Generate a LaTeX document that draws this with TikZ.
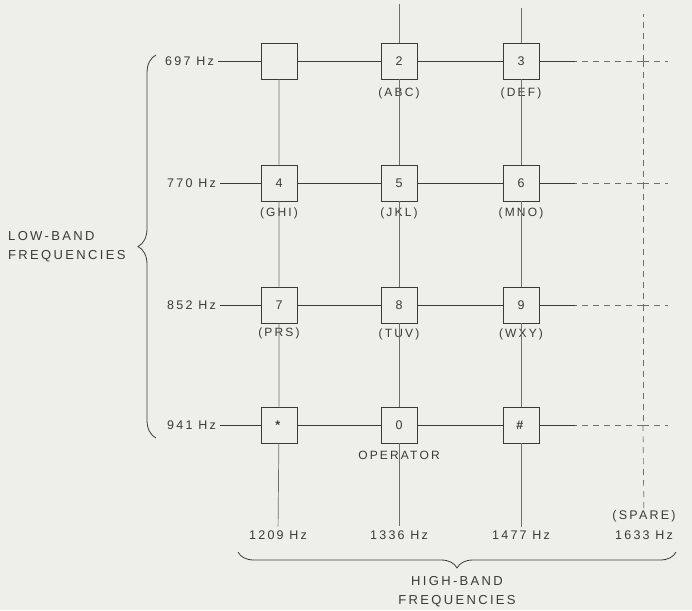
\documentclass[tikz,border=0pt]{standalone}
\usepackage{fontspec}
\usepackage{tikz}
\usetikzlibrary{decorations.pathreplacing}
\usepackage{xcolor}
\newfontfamily\dtmf[LetterSpace=18]{Liberation Sans}
\definecolor{paper}{HTML}{EFEFE9}
\definecolor{ink}{HTML}{3A3A3A}
\definecolor{faint}{HTML}{6E6E6E}
\tikzset{
  keybox/.style={draw=ink, line width=0.8pt, minimum size=36pt, inner sep=0pt, font=\dtmf\fontsize{12.5}{14}\selectfont, text=ink},
  keylabel/.style={font=\dtmf\fontsize{12}{14}\selectfont, text=ink, inner sep=1pt},
  hzlabel/.style={font=\dtmf\fontsize{12.5}{14}\selectfont, text=ink, inner sep=4pt},
  bandlabel/.style={font=\dtmf\fontsize{13}{19}\selectfont, text=ink, inner sep=0pt},
  wire/.style={draw=ink, line width=0.8pt},
  colwire/.style={draw=faint, line width=0.7pt},
  spare/.style={draw=faint, line width=0.7pt, dash pattern=on 6pt off 5pt},
  bandbrace/.style={draw=ink, line width=0.8pt, decorate, decoration={brace, amplitude=#1}}
}

\begin{document}
\begin{tikzpicture}[x=1pt, y=-1pt]
  \fill[paper] (0,0) rectangle (692,610);
  \useasboundingbox (0,0) rectangle (692,610);

  % keys
  \node[keybox] (k1) at (279,61) {};
  \node[keybox] (k2) at (399,61) {2};
  \node[keybox] (k3) at (521,61) {3};
  \node[keybox] (k4) at (279,183) {4};
  \node[keybox] (k5) at (399,183) {5};
  \node[keybox] (k6) at (521,183) {6};
  \node[keybox] (k7) at (279,305) {7};
  \node[keybox] (k8) at (399,305) {8};
  \node[keybox] (k9) at (521,305) {9};
  \node[keybox] (kstar) at (279,425) {\raisebox{-0.35ex}{\textbf{*}}};
  \node[keybox] (k0) at (399,425) {0};
  \node[keybox] (khash) at (521,425) {\textbf{\#}};

  % letters under the keys
  \node[keylabel] (l2) at (399,93) {(ABC)};
  \node[keylabel] (l3) at (521,93) {(DEF)};
  \node[keylabel] (l4) at (279,213) {(GHI)};
  \node[keylabel] (l5) at (399,213) {(JKL)};
  \node[keylabel] (l6) at (521,213) {(MNO)};
  \node[keylabel] (l7) at (279,333) {(PRS)};
  \node[keylabel] (l8) at (399,334) {(TUV)};
  \node[keylabel] (l9) at (521,334) {(WXY)};
  \node[keylabel] (l0) at (399,455) {OPERATOR};

  % row frequencies
  \node[hzlabel, anchor=east] (r697) at (218,61) {697 Hz};
  \node[hzlabel, anchor=east] (r770) at (220,183) {770 Hz};
  \node[hzlabel, anchor=east] (r852) at (220,305) {852 Hz};
  \node[hzlabel, anchor=east] (r941) at (220,425) {941 Hz};

  % column frequencies
  \node[hzlabel] (h1209) at (278,535) {1209 Hz};
  \node[hzlabel] (h1336) at (399,535) {1336 Hz};
  \node[hzlabel] (h1477) at (521,535) {1477 Hz};
  \node[hzlabel, align=center, inner sep=2pt, font=\dtmf\fontsize{12.5}{20}\selectfont] (h1633) at (644,525) {(SPARE)\\1633 Hz};

  % free ends
  \coordinate (t1336) at (399,4);
  \coordinate (t1477) at (521,8);
  \coordinate (t1633) at (643,14);
  \foreach \r/\y in {697/61, 770/183, 852/305, 941/425} {
    \coordinate (s\r) at (575,\y);
    \coordinate (c\r) at (643,\y);
    \coordinate (e\r) at (668,\y);
  }

  % rows
  \draw[wire] (r697) -- (k1) -- (k2) -- (k3) -- (s697);
  \draw[wire] (r770) -- (k4) -- (k5) -- (k6) -- (s770);
  \draw[wire] (r852) -- (k7) -- (k8) -- (k9) -- (s852);
  \draw[wire] (r941) -- (kstar) -- (k0) -- (khash) -- (s941);
  \foreach \r in {697,770,852,941} {
    \draw[spare] (c\r) -- (s\r);
    \draw[spare] (c\r) -- (e\r);
  }

  % columns
  \draw[colwire] (k1) -- (k4) -- (k7) -- (kstar) -- (h1209);
  \draw[colwire] (t1336) -- (k2) -- (k5) -- (k8) -- (k0) -- (h1336);
  \draw[colwire] (t1477) -- (k3) -- (k6) -- (k9) -- (khash) -- (h1477);
  \draw[spare] (c697) -- (t1633);
  \draw[spare] (c697) -- (c770);
  \draw[spare] (c770) -- (c852);
  \draw[spare] (c852) -- (c941);
  \draw[spare] (c941) -- (h1633);

  % band braces
  \draw[bandbrace=18pt] (156,438) -- (156,55);
  \node[bandlabel, anchor=west, align=left] (lowband) at (8,247) {LOW-BAND\\FREQUENCIES};
  \draw[bandbrace=16pt] (676,552) -- (238,552);
  \node[bandlabel, align=center] (highband) at (457,592) {HIGH-BAND\\FREQUENCIES};
\end{tikzpicture}
\end{document}
